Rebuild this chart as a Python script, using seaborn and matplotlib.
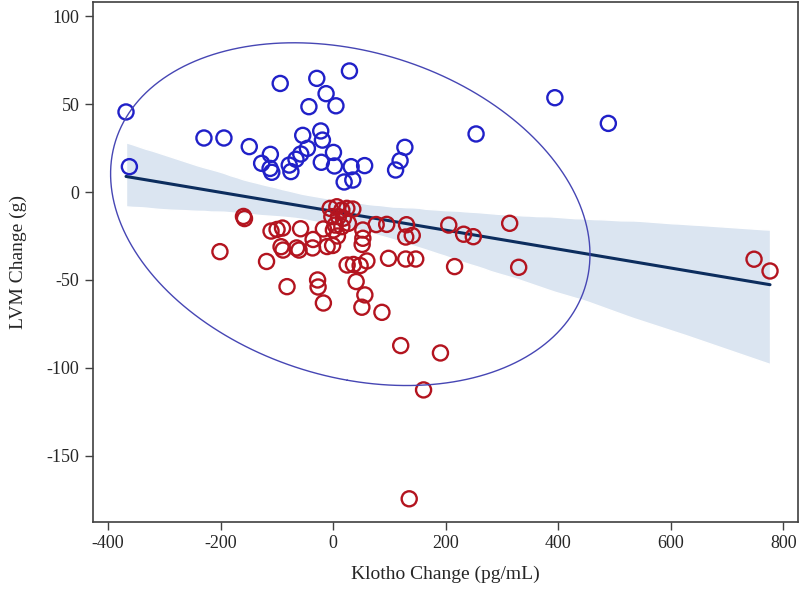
import numpy as np
import pandas as pd
import seaborn as sns
import matplotlib.pyplot as plt

# Klotho change (pg/mL) vs LVM change (g)
blue_x = [-368, -362, -229.5, -194, -149, -111.5, -127, -112, -109, -94,
          -78, -75, -66, -57.5, -45.7, -54, -43, -29, -12.5, 5,
          -22, -19, -21, 0.6, 2.4, 29, 32, 56, 19.6, 35,
          127.5, 119, 111, 254, 394, 489]
blue_y = [45.5, 14.4, 30.7, 30.7, 25.8, 21.4, 16.3, 13.4, 11.2, 61.7,
          15.3, 11.6, 18.6, 21.6, 24.8, 32.2, 48.5, 64.6, 55.9, 49.0,
          34.7, 29.5, 16.9, 22.5, 14.8, 68.8, 14.4, 15.0, 5.7, 6.8,
          25.4, 17.8, 12.5, 33.0, 53.6, 39.0]

red_x = [-159.3, -157.5, -201.1, -118.3, -110.3, -99.6, -89.9, -57.8, -92.5, -89,
         -64.9, -60.5, -35.6, -36.5, -17.3, -10.7, -0.9, 7.7, -81.9, -27.6,
         -26.7, -17.3, -5.3, 6.6, 15.5, 24.4, -2.3, 9.4, 18.3, 3.6,
         15.5, 27.2, 0.5, 35, 52.8, 52.8, 51.6, 76.5, 95.2, 130.4,
         129, 140.6, 98.4, 129, 146.8, 24.9, 36.1, 48, 60, 40.9,
         56.4, 51.1, 86.7, 120.1, 190.7, 205.5, 231.9, 249.1, 215.8, 313.7,
         329.7, 747.9, 776.3, 160.7, 135.2]
red_y = [-13.9, -15.1, -33.9, -39.5, -22.2, -21.3, -20.5, -20.9, -31.1, -33,
         -31.8, -33, -27, -31.8, -21, -31, -30.4, -25, -53.8, -50,
         -54, -63.1, -9.3, -8.4, -10.2, -9.3, -14, -14, -14.9, -18.8,
         -19.7, -17.8, -21.6, -9.7, -21.6, -26.3, -29.8, -18.5, -18.4, -18.6,
         -25.6, -24.7, -37.7, -38.1, -38.1, -41.5, -41.2, -41.8, -39.2, -50.9,
         -58.5, -65.5, -68.4, -87.3, -91.5, -18.8, -24, -25.4, -42.4, -17.8,
         -42.8, -38.2, -44.9, -112.5, -174.4]

x_ticks = [-400, -200, 0, 200, 400, 600, 800]
y_ticks = [-150, -100, -50, 0, 50, 100]

df = pd.DataFrame({
    "klotho": blue_x + red_x,
    "lvm": blue_y + red_y,
    "grp": ["up"] * len(blue_x) + ["down"] * len(red_x),
})

sns.set_style("white")
plt.rcParams["font.family"] = ["Liberation Serif", "DejaVu Serif"]
plt.rcParams["axes.unicode_minus"] = False

fig = plt.figure(figsize=(8, 5.91), dpi=100)
ax = fig.add_axes([0.116, 0.117, 0.8815, 0.8796])

# regression line with confidence band
sns.regplot(data=df, x="klotho", y="lvm", scatter=False, ci=95, seed=3,
            color="#0c2d5e", line_kws={"lw": 2.2}, ax=ax)
band = ax.collections[0]
band.set_facecolor("#dbe5f1")
band.set_alpha(1)

# open circles
for g, col in [("up", "#2020c8"), ("down", "#b3141f")]:
    sub = df[df.grp == g]
    sns.scatterplot(data=sub, x="klotho", y="lvm", marker="o", s=118,
                    facecolors="none", edgecolor=col, linewidth=1.7,
                    legend=False, ax=ax, zorder=3)

# 95% prediction ellipse
xy = df[["klotho", "lvm"]].to_numpy()
n = len(xy)
mu = xy.mean(axis=0)
cov = np.cov(xy.T)
f95 = 3.09  # F(0.95; 2, n-2)
c = np.sqrt(2 * (n + 1) * (n - 1) / (n * (n - 2)) * f95)
vals, vecs = np.linalg.eigh(cov)
t = np.linspace(0, 2 * np.pi, 400)
circ = np.vstack([np.cos(t), np.sin(t)])
pts = (vecs @ (np.sqrt(vals)[:, None] * circ)) * c + mu[:, None]
ax.plot(pts[0], pts[1], color="#4646b4", lw=1.0, zorder=4)

ax.set_xlim(-427, 826)
ax.set_ylim(-187.5, 108)
ax.set_xticks(x_ticks)
ax.set_yticks(y_ticks)
ax.set_xlabel("Klotho Change (pg/mL)", fontsize=14, labelpad=10)
ax.set_ylabel("LVM Change (g)", fontsize=14, labelpad=14)
ax.tick_params(axis="both", labelsize=13, direction="out", length=6,
               width=1, color="#404040", bottom=True, left=True)
for sp in ax.spines.values():
    sp.set_color("#404040")
    sp.set_linewidth(1.2)

fig.savefig("out.png", dpi=100)
